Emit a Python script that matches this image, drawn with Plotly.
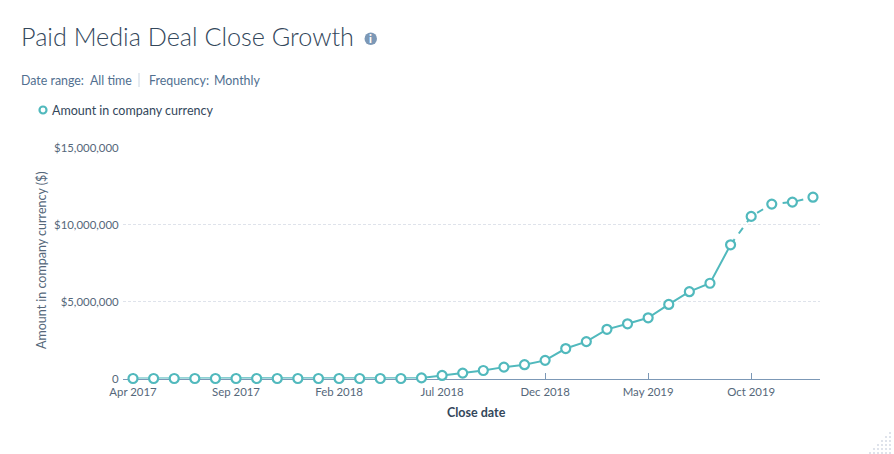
import plotly.graph_objects as go

W, H = 894, 454

months = [
    "Apr 2017", "May 2017", "Jun 2017", "Jul 2017", "Aug 2017", "Sep 2017", "Oct 2017", "Nov 2017", "Dec 2017",
    "Jan 2018", "Feb 2018", "Mar 2018", "Apr 2018", "May 2018", "Jun 2018", "Jul 2018", "Aug 2018", "Sep 2018",
    "Oct 2018", "Nov 2018", "Dec 2018", "Jan 2019", "Feb 2019", "Mar 2019", "Apr 2019", "May 2019", "Jun 2019",
    "Jul 2019", "Aug 2019", "Sep 2019", "Oct 2019", "Nov 2019", "Dec 2019", "Jan 2020",
]
amounts = [
    0, 0, 0, 0, 0, 0, 0, 0, 0,
    0, 0, 0, 0, 0, 40000, 200000, 350000, 520000,
    740000, 900000, 1180000, 1950000, 2400000, 3200000, 3560000, 3950000, 4820000,
    5650000, 6200000, 8700000, 10550000, 11350000, 11480000, 11800000,
]
x_ticks = ["Apr 2017", "Sep 2017", "Feb 2018", "Jul 2018", "Dec 2018", "May 2019", "Oct 2019"]
y_ticks = [0, 5000000, 10000000, 15000000]
y_tick_labels = ["0", "$5,000,000", "$10,000,000", "$15,000,000"]
last_solid = 29

TEAL = "#51b9bd"
INK = "#33475b"
SLATE = "#516f90"
TICK_TEXT = "#55677a"
AXIS = "#7c98b6"
FONT = "Lato"


def px(x):
    return x / W


def py(y):
    return 1 - y / H


def label(x, y, text, size=12, color=SLATE, anchor="left", angle=0, weight=400):
    return dict(
        x=px(x), y=py(y), xref="paper", yref="paper", text=text, showarrow=False,
        xanchor=anchor, yanchor="middle", textangle=angle,
        font=dict(family=FONT, size=size, color=color, weight=weight),
    )


fig = go.Figure()
# Settled months are drawn solid, the most recent ones dashed.
fig.add_trace(go.Scatter(
    x=months[:last_solid + 1], y=amounts[:last_solid + 1], mode="lines",
    line=dict(color=TEAL, width=2), cliponaxis=False, hoverinfo="skip",
))
fig.add_trace(go.Scatter(
    x=months[last_solid:], y=amounts[last_solid:], mode="lines",
    line=dict(color=TEAL, width=2, dash="7px,7px"), cliponaxis=False, hoverinfo="skip",
))
fig.add_trace(go.Scatter(
    x=months, y=amounts, mode="markers", name="Amount in company currency",
    marker=dict(symbol="circle", size=9, color="white", line=dict(color=TEAL, width=2.2)),
    cliponaxis=False,
))

shapes = [
    # legend swatch
    dict(type="circle", xref="paper", yref="paper", x0=px(39.5), x1=px(46.5), y0=py(113.5), y1=py(106.5),
         fillcolor="white", line=dict(color=TEAL, width=2.2)),
    # info icon
    dict(type="circle", xref="paper", yref="paper", x0=px(364.5), x1=px(377), y0=py(45), y1=py(32.5),
         fillcolor="#7c98b6", line=dict(width=0)),
    # separator in the filter summary
    dict(type="line", xref="paper", yref="paper", x0=px(139), x1=px(139), y0=py(73), y1=py(87),
         line=dict(color="#cbd6e2", width=1)),
]

# Dotted corner ornament: rows get longer towards the bottom edge.
for row in range(6):
    for col in range(6):
        if row + col >= 5:
            cx = 869 + col * 4
            cy = 432 + row * 4
            shapes.append(dict(
                type="rect", xref="paper", yref="paper",
                x0=px(cx), x1=px(cx + 2), y0=py(cy + 2), y1=py(cy),
                fillcolor="#dfe3eb", line=dict(width=0), layer="below",
            ))

annotations = [
    label(19, 36, "Paid Media Deal Close Growth", size=25.2, color=INK, weight=300),
    label(370.75, 38.5, "i", size=11, color="white", anchor="center", weight=900),
    label(19, 80, "Date range:", size=12.4),
    label(87.5, 80, "All time", size=12.4),
    label(146.5, 80, "Frequency:", size=12.4),
    label(211.5, 80, "Monthly", size=12.4),
    label(50, 110.5, "Amount in company currency", size=12.5, color=INK),
    label(41, 260, "Amount in company currency ($)", size=12.5, color=TICK_TEXT, anchor="center", angle=-90),
    label(476.5, 412, "Close date", size=12.5, color=INK, anchor="center", weight=700),
]

fig.update_layout(
    width=W, height=H, margin=dict(l=0, r=0, t=0, b=0),
    paper_bgcolor="white", plot_bgcolor="white", showlegend=False,
    font=dict(family=FONT, size=11, color=SLATE),
    shapes=shapes, annotations=annotations,
    xaxis=dict(
        domain=[px(122.7), px(820)], type="category", categoryorder="array", categoryarray=months,
        range=[-0.5, 33.34], tickmode="array", tickvals=x_ticks, ticktext=x_ticks,
        showgrid=False, zeroline=False, showline=True, linecolor=AXIS, linewidth=1,
        ticks="inside", ticklen=6, tickcolor=AXIS, tickwidth=1, automargin=False, layer="below traces",
        tickfont=dict(family=FONT, size=11.4, color=TICK_TEXT), ticklabelstandoff=3,
    ),
    yaxis=dict(
        domain=[py(378.5), py(148)], range=[0, 15000000], tickmode="array",
        tickvals=y_ticks, ticktext=y_tick_labels, showline=False, zeroline=False, automargin=False,
        showgrid=True, gridcolor="#dfe3eb", griddash="3px,2px", gridwidth=1, ticks="",
        tickfont=dict(family=FONT, size=11.4, color=TICK_TEXT), ticklabelstandoff=3,
    ),
)

fig.write_html("out.html")
